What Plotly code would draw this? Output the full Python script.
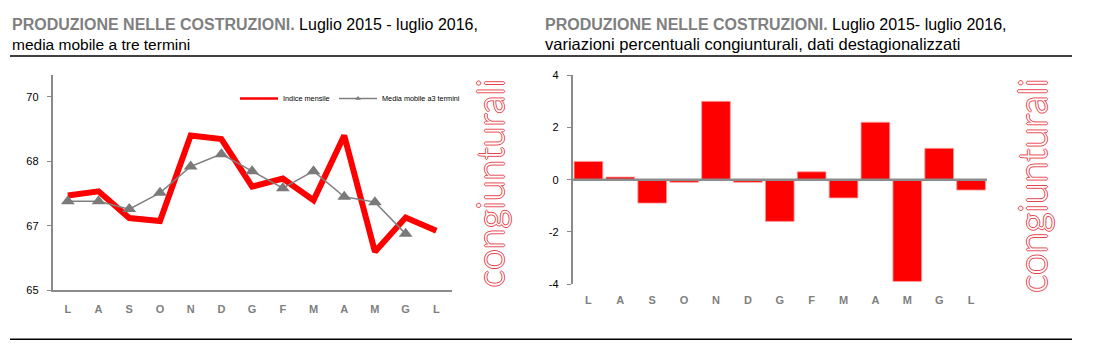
import plotly.graph_objects as go

# ---------------- data ----------------
months = ["L", "A", "S", "O", "N", "D", "G", "F", "M", "A", "M", "G", "L"]
indice_mensile = [67.45, 67.56, 66.87, 66.79, 69.0, 68.91, 67.68, 67.89, 67.33, 69.0, 66.0, 66.88, 66.54]
media_mobile = [67.3, 67.3, 67.1, 67.52, 68.2, 68.52, 68.08, 67.64, 68.08, 67.42, 67.28, 66.46, None]
var_congiunturali = [0.7, 0.1, -0.9, -0.1, 3.0, -0.1, -1.6, 0.3, -0.7, 2.2, -3.9, 1.2, -0.4]

left_tickvals = [65, 66.6667, 68.3333, 70]
left_ticktext = ["65", "67", "68", "70"]
right_tickvals = [-4, -2, 0, 2, 4]
right_ticktext = ["-4", "-2", "0", "2", "4"]

W, H = 1110, 356
def px(x):
    return x / W
def py(y):
    return 1 - y / H

xpos = list(range(len(months)))

SANS = "Liberation Sans, Arial, sans-serif"
RED = "#ff0000"
GRAY = "#808080"
AXGRAY = "#8a8a8a"

fig = go.Figure()

# left chart
fig.add_trace(go.Scatter(x=xpos, y=indice_mensile, mode="lines",
                         line=dict(color=RED, width=6), showlegend=False,
                         xaxis="x", yaxis="y", hoverinfo="skip"))
fig.add_trace(go.Scatter(x=xpos, y=media_mobile, mode="lines+markers",
                         line=dict(color=GRAY, width=1.5),
                         marker=dict(symbol="triangle-up", size=12, color="#7a7a7a"),
                         showlegend=False, xaxis="x", yaxis="y", hoverinfo="skip"))
# legend entries
fig.add_trace(go.Scatter(x=[None], y=[None], mode="lines", name="Indice mensile",
                         line=dict(color=RED, width=2.5), legend="legend",
                         xaxis="x", yaxis="y"))
fig.add_trace(go.Scatter(x=[None], y=[None], mode="lines+markers", name="Media mobile a3 termini",
                         line=dict(color=GRAY, width=1.5),
                         marker=dict(symbol="triangle-up", size=5, color="#7a7a7a"),
                         legend="legend2", xaxis="x", yaxis="y"))

# right chart
fig.add_trace(go.Bar(x=xpos, y=var_congiunturali,
                     marker=dict(color=RED, line=dict(color="#ff9c9c", width=0.8)),
                     showlegend=False, xaxis="x2", yaxis="y2", hoverinfo="skip"))

tickfont_y = dict(family=SANS, size=11, color="#000000")
tickfont_x = dict(family=SANS, size=11, color="#7f7f7f", weight="bold")
legfont = dict(family=SANS, size=7.3, color="#000000")

fig.update_layout(
    width=W, height=H,
    margin=dict(l=0, r=0, t=0, b=0),
    paper_bgcolor="white", plot_bgcolor="white",
    bargap=0.1,
    xaxis=dict(domain=[px(52.5), px(451.7)], range=[-0.5, 12.5],
               tickvals=xpos, ticktext=months, tickfont=tickfont_x,
               showline=True, linecolor=AXGRAY, linewidth=1.5,
               ticks="", showgrid=False, zeroline=False, ticklabelstandoff=8,
               fixedrange=True),
    yaxis=dict(domain=[py(294.3), py(71.7)], range=[65, 70.5575],
               tickvals=left_tickvals, ticktext=left_ticktext, tickfont=tickfont_y,
               showline=True, linecolor=AXGRAY, linewidth=1.5,
               ticks="outside", ticklen=4, tickcolor=AXGRAY, tickwidth=1.2,
               showgrid=False, zeroline=False, ticklabelstandoff=6, fixedrange=True),
    xaxis2=dict(domain=[px(572.5), px(987)], range=[-0.5, 12.5], anchor="y2",
                tickvals=xpos, ticktext=months, tickfont=tickfont_x,
                showline=False, ticks="", showgrid=False, zeroline=False,
                ticklabelstandoff=8, fixedrange=True),
    yaxis2=dict(domain=[py(287.7), py(71.7)], range=[-4, 4], anchor="x2",
                tickvals=right_tickvals, ticktext=right_ticktext, tickfont=tickfont_y,
                showline=True, linecolor=AXGRAY, linewidth=1.5,
                ticks="outside", ticklen=4, tickcolor=AXGRAY, tickwidth=1.2,
                showgrid=False, zeroline=False, ticklabelstandoff=6, fixedrange=True),
    legend=dict(x=px(235), y=py(95.7), xanchor="left", yanchor="middle",
                orientation="h", bgcolor="rgba(0,0,0,0)", itemwidth=38, font=legfont),
    legend2=dict(x=px(334), y=py(95.7), xanchor="left", yanchor="middle",
                 orientation="h", bgcolor="rgba(0,0,0,0)", itemwidth=38, font=legfont),
)

# zero line of the bar chart (drawn over the bars)
fig.add_shape(type="line", xref="x2 domain", yref="y2", x0=0, x1=1, y0=0, y1=0,
              line=dict(color="#8c8c8c", width=2.5), layer="above")

# horizontal rules
for yy in (51.7, 345):
    fig.add_shape(type="line", xref="paper", yref="paper", x0=px(10), x1=px(1072),
                  y0=py(yy), y1=py(yy), line=dict(color="#000000", width=1.5))

# titles
TITLE_GRAY = "#7f7f7f"
def title(x, line1_rest, line2, size2):
    fig.add_annotation(xref="paper", yref="paper", x=px(x), y=py(19.5), xanchor="left", yanchor="middle",
                       showarrow=False,
                       text=f"<b><span style='color:{TITLE_GRAY}'>PRODUZIONE NELLE COSTRUZIONI.</span></b> {line1_rest}",
                       font=dict(family=SANS, size=16, color="#000000"))
    fig.add_annotation(xref="paper", yref="paper", x=px(x), y=py(39.5), xanchor="left", yanchor="middle",
                       showarrow=False, text=line2,
                       font=dict(family=SANS, size=size2, color="#000000"))

title(10, "Luglio 2015 - luglio 2016,", "media mobile a tre termini", 15.5)
title(542.5, "Luglio 2015- luglio 2016,", "variazioni percentuali congiunturali, dati destagionalizzati", 16.5)

# vertical "congiunturali" watermark (outlined)
OUT = "#e8434b"
shadow = f"1px 0 0 {OUT}, -1px 0 0 {OUT}, 0 1px 0 {OUT}, 0 -1px 0 {OUT}"
for cx, cy, sz in ((489.6, 184, 37.5), (1032.6, 186.5, 38.6)):
    fig.add_annotation(xref="paper", yref="paper", x=px(cx), y=py(cy), xanchor="center", yanchor="middle",
                       showarrow=False, text="congiunturali", textangle=-90,
                       font=dict(family="Lato, sans-serif", size=sz, color="#ffffff",
                                 weight=300, shadow=shadow))

fig.write_html("out.html", config={"displayModeBar": False},
               post_script="document.body.style.margin='0';")
